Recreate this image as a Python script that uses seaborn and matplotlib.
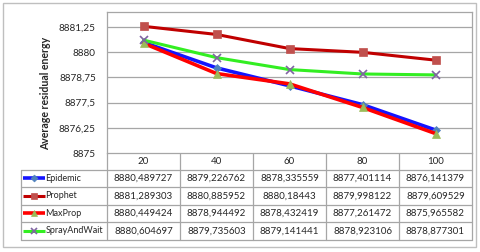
import pandas as pd
import seaborn as sns
import matplotlib.pyplot as plt
from matplotlib.patches import Rectangle

# --- data ---
categories = ["20", "40", "60", "80", "100"]
epidemic = [8880.489727, 8879.226762, 8878.335559, 8877.401114, 8876.141379]
prophet = [8881.289303, 8880.885952, 8880.18443, 8879.998122, 8879.609529]
maxprop = [8880.449424, 8878.944492, 8878.432419, 8877.261472, 8875.965582]
spray = [8880.604697, 8879.735603, 8879.141441, 8878.923106, 8878.877301]
series_names = ["Epidemic", "Prophet", "MaxProp", "SprayAndWait"]
y_ticks = [8875, 8876.25, 8877.5, 8878.75, 8880, 8881.25]

series = dict(zip(series_names, [epidemic, prophet, maxprop, spray]))

# line colour, marker, marker colour, line width, marker size
styles = {
    "Epidemic": ("#1414ff", "D", "#4f81bd", 2.6, 4.5),
    "Prophet": ("#c00000", "s", "#c0504d", 2.2, 5.5),
    "MaxProp": ("#ff0000", "^", "#9bbb59", 2.6, 6),
    "SprayAndWait": ("#33ee22", "x", "#8064a2", 2.2, 6),
}

sns.set_style("white")
plt.rcParams["font.family"] = ["Lato", "DejaVu Sans"]

W, H = 480, 252
fig = plt.figure(figsize=(W / 100, H / 100), dpi=100)

# plot area in pixels
px_l, px_r, px_t, px_b = 107, 472, 12, 153
ax = fig.add_axes([px_l / W, 1 - px_b / H, (px_r - px_l) / W, (px_b - px_t) / H])

grid_c = "#a6a6a6"
for t in y_ticks[1:]:
    ax.axhline(t, color=grid_c, lw=0.9, zorder=0)

for name in series_names:
    lc, mk, mc, lw, ms = styles[name]
    df = pd.DataFrame({"x": range(len(categories)), "y": series[name]})
    sns.lineplot(data=df, x="x", y="y", ax=ax, color=lc, lw=lw,
                 marker=mk, markersize=ms, markerfacecolor=mc,
                 markeredgecolor=mc, markeredgewidth=1.2 if mk == "x" else 0.5,
                 zorder=3)

ax.set_xlim(-0.5, len(categories) - 0.5)
ax.set_ylim(8875, 8882)
ax.set_yticks(y_ticks)
ax.set_yticklabels([f"{t:g}".replace(".", ",") for t in y_ticks], fontsize=7.2)
ax.set_xticks([])
ax.set_xlabel("")
ax.set_ylabel("Average residual energy", fontsize=7.6, fontweight="bold")
ax.yaxis.set_label_coords(-0.153, 0.42)
ax.tick_params(axis="y", length=0, pad=8)
for s in ax.spines.values():
    s.set_color(grid_c)
    s.set_linewidth(0.9)

# --- data table drawn underneath, pixel coordinates ---
tab = fig.add_axes([0, 0, 1, 1], zorder=-1)
tab.set_xlim(0, W)
tab.set_ylim(H, 0)
tab.axis("off")

# outer chart border
tab.add_patch(Rectangle((3, 3), W - 7, H - 8, fill=False, ec="#bfbfbf", lw=1))

col_edges = [px_l + i * (px_r - px_l) / len(categories) for i in range(len(categories) + 1)]
row_edges = [153, 169.5, 187, 204.5, 222, 239.5]
tab_left = 21

# header row (category labels)
for i, c in enumerate(categories):
    tab.text((col_edges[i] + col_edges[i + 1]) / 2, (row_edges[0] + row_edges[1]) / 2,
             c, ha="center", va="center", fontsize=7)
for x in col_edges:
    tab.plot([x, x], [row_edges[0], row_edges[-1]], color=grid_c, lw=0.9)
tab.plot([tab_left, tab_left], [row_edges[1], row_edges[-1]], color=grid_c, lw=0.9)
for j, y in enumerate(row_edges[1:]):
    tab.plot([tab_left, px_r], [y, y], color=grid_c, lw=0.9)

# series rows
for j, name in enumerate(series_names):
    lc, mk, mc, lw, ms = styles[name]
    yc = (row_edges[j + 1] + row_edges[j + 2]) / 2
    tab.plot([23, 45], [yc, yc], color=lc, lw=lw, solid_capstyle="butt")
    tab.plot([34], [yc], marker=mk, ms=ms - 1, color=mc, mec=mc,
             mew=1.2 if mk == "x" else 0.5)
    tab.text(45.5, yc, name, ha="left", va="center", fontsize=6.5)
    for i, v in enumerate(series[name]):
        tab.text((col_edges[i] + col_edges[i + 1]) / 2, yc,
                 f"{v:.10g}".replace(".", ","), ha="center", va="center", fontsize=7)

fig.savefig("out.png", dpi=100)
